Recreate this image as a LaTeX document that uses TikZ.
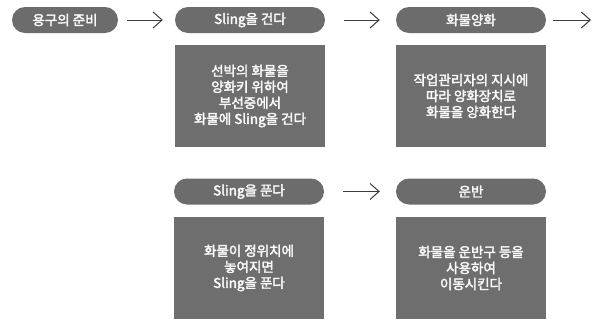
\documentclass[tikz,border=0pt]{standalone}
\usepackage{fontspec}
\newfontfamily\kr[FakeBold=2.5]{Noto Sans CJK KR}
\usetikzlibrary{arrows.meta}
\definecolor{pillgray}{RGB}{108,108,108}
\definecolor{boxgray}{RGB}{110,110,110}
\definecolor{arrgray}{RGB}{60,60,60}
\definecolor{txt}{RGB}{250,250,250}
\tikzset{
  pill/.style={fill=pillgray, rounded corners=13pt, minimum height=26pt, text=txt,
    font=\kr\fontsize{13.5}{15}\selectfont, inner sep=0pt, anchor=center},
  infobox/.style={fill=boxgray, minimum width=150pt, minimum height=102pt, text=txt,
    font=\kr\fontsize{13.5}{16}\selectfont, align=center, inner sep=0pt},
  arr/.style={draw=arrgray, line width=1pt, -{Straight Barb[length=9pt,width=16pt,line width=1pt]}}
}
\begin{document}
\begin{tikzpicture}[x=1pt,y=-1pt]
\fill[white] (0,0) rectangle (595,322);
\useasboundingbox (0,0) rectangle (595,322);
% row 1
\node[pill, minimum width=106pt] (p1) at (65,20) {용구의 준비};
\node[pill, minimum width=150pt] (p2) at (250,20) {Sling을 건다};
\node[pill, minimum width=150pt] (p3) at (471,20) {화물양화};
\node[infobox] (b2) at (250,96) {선박의 화물을\\양화키 위하여\\부선중에서\\화물에 Sling을 건다};
\node[infobox] (b3) at (471,96) {작업관리자의 지시에\\따라 양화장치로\\화물을 양화한다};
\coordinate (end) at (591,20);
\draw[arr, shorten <=9pt, shorten >=12pt] (p1.east) -- (p2.west);
\draw[arr, shorten <=19pt, shorten >=16pt] (p2.east) -- (p3.west);
\draw[arr, shorten <=7pt] (p3.east) -- (end);
% row 2
\node[pill, minimum width=150pt] (p4) at (249,191.5) {Sling을 푼다};
\node[pill, minimum width=150pt] (p5) at (471,191.5) {운반};
\node[infobox] (b4) at (249,268) {화물이 정위치에\\놓여지면\\Sling을 푼다};
\node[infobox] (b5) at (471,268) {화물을 운반구 등을\\사용하여\\이동시킨다};
\draw[arr, shorten <=19pt, shorten >=16pt] (p4.east) -- (p5.west);
\end{tikzpicture}
\end{document}
